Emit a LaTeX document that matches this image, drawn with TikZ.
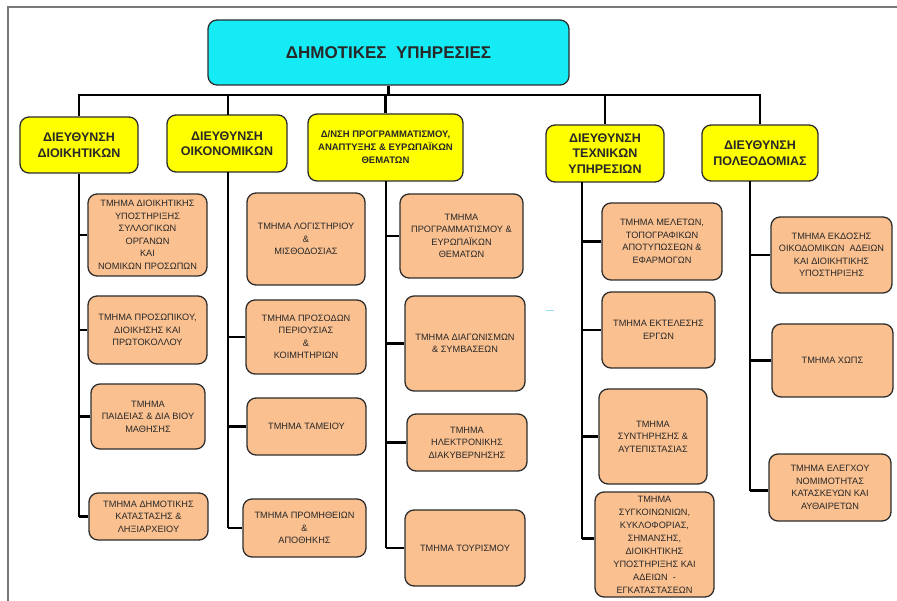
\documentclass[tikz,border=0pt]{standalone}
\usepackage{fontspec}
\setmainfont{Liberation Sans}
\definecolor{topfill}{RGB}{20,235,245}
\definecolor{headfill}{RGB}{255,255,0}
\definecolor{deptfill}{RGB}{250,192,144}
\definecolor{edgecol}{RGB}{45,45,45}
\definecolor{txtcol}{RGB}{40,40,40}
\definecolor{framecol}{RGB}{120,120,120}
\begin{document}
\begin{tikzpicture}[x=1pt,y=-1pt,
  box/.style={draw=edgecol, line width=1.3pt, rounded corners=9pt, inner sep=0pt, align=center, text=txtcol},
  topbox/.style={box, fill=topfill, font=\bfseries\fontsize{17}{20}\selectfont},
  headbox/.style={box, fill=headfill, font=\bfseries\fontsize{12.5}{15.5}\selectfont},
  headsmall/.style={box, fill=headfill, font=\bfseries\fontsize{9.5}{13}\selectfont},
  deptbox/.style={box, fill=deptfill, font=\fontsize{9.2}{12.5}\selectfont},
  conn/.style={line width=2.6pt, black}]
\useasboundingbox (0,0) rectangle (897,601);
% frame
\draw[framecol, line width=1.2pt] (8,601) -- (8,7) -- (897,7);

% top
\node[topbox, minimum width=361pt, minimum height=65pt] (top) at (388.5,52.5) {ΔΗΜΟΤΙΚΕΣ \ ΥΠΗΡΕΣΙΕΣ};

% directorates
\node[headbox, minimum width=118pt, minimum height=56pt] (d1) at (79,145) {ΔΙΕΥΘΥΝΣΗ\\ΔΙΟΙΚΗΤΙΚΩΝ};
\node[headbox, minimum width=120pt, minimum height=57pt] (d2) at (227,143.5) {ΔΙΕΥΘΥΝΣΗ\\ΟΙΚΟΝΟΜΙΚΩΝ};
\node[headsmall, minimum width=155pt, minimum height=67pt] (d3) at (385.5,147.5) {Δ/ΝΣΗ ΠΡΟΓΡΑΜΜΑΤΙΣΜΟΥ,\\ΑΝΑΠΤΥΞΗΣ \& ΕΥΡΩΠΑΪΚΩΝ\\ΘΕΜΑΤΩΝ};
\node[headbox, minimum width=118pt, minimum height=57pt] (d4) at (605,153.5) {ΔΙΕΥΘΥΝΣΗ\\ΤΕΧΝΙΚΩΝ\\ΥΠΗΡΕΣΙΩΝ};
\node[headbox, minimum width=116pt, minimum height=56pt] (d5) at (760,153) {ΔΙΕΥΘΥΝΣΗ\\ΠΟΛΕΟΔΟΜΙΑΣ};

% departments column 1
\node[deptbox, minimum width=119pt, minimum height=82pt] (c1a) at (147.5,235) {ΤΜΗΜΑ ΔΙΟΙΚΗΤΙΚΗΣ\\ΥΠΟΣΤΗΡΙΞΗΣ\\ΣΥΛΛΟΓΙΚΩΝ\\ΟΡΓΑΝΩΝ\\ΚΑΙ\\ΝΟΜΙΚΩΝ ΠΡΟΣΩΠΩΝ};
\node[deptbox, minimum width=119pt, minimum height=68pt] (c1b) at (147.5,330) {ΤΜΗΜΑ ΠΡΟΣΩΠΙΚΟΥ,\\ΔΙΟΙΚΗΣΗΣ ΚΑΙ\\ΠΡΩΤΟΚΟΛΛΟΥ};
\node[deptbox, minimum width=114pt, minimum height=65pt] (c1c) at (148,416.5) {ΤΜΗΜΑ\\ΠΑΙΔΕΙΑΣ \& ΔΙΑ ΒΙΟΥ\\ΜΑΘΗΣΗΣ};
\node[deptbox, minimum width=119pt, minimum height=47pt] (c1d) at (148.5,516.5) {ΤΜΗΜΑ ΔΗΜΟΤΙΚΗΣ\\ΚΑΤΑΣΤΑΣΗΣ \&\\ΛΗΞΙΑΡΧΕΙΟΥ};

% column 2
\node[deptbox, minimum width=118pt, minimum height=92pt] (c2a) at (306,239) {ΤΜΗΜΑ ΛΟΓΙΣΤΗΡΙΟΥ\\\&\\ΜΙΣΘΟΔΟΣΙΑΣ};
\node[deptbox, minimum width=120pt, minimum height=74pt] (c2b) at (306,337) {ΤΜΗΜΑ ΠΡΟΣΟΔΩΝ\\ΠΕΡΙΟΥΣΙΑΣ\\\&\\ΚΟΙΜΗΤΗΡΙΩΝ};
\node[deptbox, minimum width=119pt, minimum height=57pt] (c2c) at (306.5,426.5) {ΤΜΗΜΑ ΤΑΜΕΙΟΥ};
\node[deptbox, minimum width=123pt, minimum height=58pt] (c2d) at (304.5,528) {ΤΜΗΜΑ ΠΡΟΜΗΘΕΙΩΝ\\\&\\ΑΠΟΘΗΚΗΣ};

% column 3
\node[deptbox, minimum width=123pt, minimum height=84pt] (c3a) at (461.5,236) {ΤΜΗΜΑ\\ΠΡΟΓΡΑΜΜΑΤΙΣΜΟΥ \&\\ΕΥΡΩΠΑΪΚΩΝ\\ΘΕΜΑΤΩΝ};
\node[deptbox, minimum width=120pt, minimum height=95pt] (c3b) at (465,343.5) {ΤΜΗΜΑ ΔΙΑΓΩΝΙΣΜΩΝ\\\& ΣΥΜΒΑΣΕΩΝ};
\node[deptbox, minimum width=120pt, minimum height=57pt] (c3c) at (467,442.5) {ΤΜΗΜΑ\\ΗΛΕΚΤΡΟΝΙΚΗΣ\\ΔΙΑΚΥΒΕΡΝΗΣΗΣ};
\node[deptbox, minimum width=120pt, minimum height=76pt] (c3d) at (465,548) {ΤΜΗΜΑ ΤΟΥΡΙΣΜΟΥ};

% column 4
\node[deptbox, minimum width=120pt, minimum height=77pt] (c4a) at (662,241.5) {ΤΜΗΜΑ ΜΕΛΕΤΩΝ,\\ΤΟΠΟΓΡΑΦΙΚΩΝ\\ΑΠΟΤΥΠΩΣΕΩΝ \&\\ΕΦΑΡΜΟΓΩΝ};
\node[deptbox, minimum width=113pt, minimum height=76pt] (c4b) at (658.5,330) {ΤΜΗΜΑ ΕΚΤΕΛΕΣΗΣ\\ΕΡΓΩΝ};
\node[deptbox, minimum width=108pt, minimum height=95pt] (c4c) at (653,436.5) {ΤΜΗΜΑ\\ΣΥΝΤΗΡΗΣΗΣ \&\\ΑΥΤΕΠΙΣΤΑΣΙΑΣ};
\node[deptbox, minimum width=119pt, minimum height=105pt, font=\fontsize{9.2}{13}\selectfont] (c4d) at (654.5,544.5) {ΤΜΗΜΑ\\ΣΥΓΚΟΙΝΩΝΙΩΝ,\\ΚΥΚΛΟΦΟΡΙΑΣ,\\ΣΗΜΑΝΣΗΣ,\\ΔΙΟΙΚΗΤΙΚΗΣ\\ΥΠΟΣΤΗΡΙΞΗΣ ΚΑΙ\\ΑΔΕΙΩΝ \ -\\ΕΓΚΑΤΑΣΤΑΣΕΩΝ};

% column 5
\node[deptbox, minimum width=121pt, minimum height=76pt] (c5a) at (831.5,255) {ΤΜΗΜΑ ΕΚΔΟΣΗΣ\\ΟΙΚΟΔΟΜΙΚΩΝ \ ΑΔΕΙΩΝ\\ΚΑΙ ΔΙΟΙΚΗΤΙΚΗΣ\\ΥΠΟΣΤΗΡΙΞΗΣ};
\node[deptbox, minimum width=121pt, minimum height=73pt] (c5b) at (832.5,360.5) {ΤΜΗΜΑ ΧΩΠΣ};
\node[deptbox, minimum width=122pt, minimum height=67pt] (c5c) at (830,487.5) {ΤΜΗΜΑ ΕΛΕΓΧΟΥ\\ΝΟΜΙΜΟΤΗΤΑΣ\\ΚΑΤΑΣΚΕΥΩΝ ΚΑΙ\\ΑΥΘΑΙΡΕΤΩΝ};

% bus
\coordinate (busL) at (79,95);
\coordinate (busR) at (760,95);
\draw[conn] (top.south) -- (top.south |- busL);
\draw[conn, line cap=rect] (busL) -- (busR);
\draw[conn] (d1.north |- busL) -- (d1.north);
\draw[conn] (228,95) -- (228,115);
\draw[conn] (d3.north |- busL) -- (d3.north);
\draw[conn] (d4.north |- busL) -- (d4.north);
\draw[conn] (d5.north |- busL) -- (d5.north);

% spines
\coordinate (s1) at (d1.south);
\coordinate (s2) at (228,172);
\coordinate (s3) at (386,181);
\coordinate (s4) at (582,182);
\coordinate (s5) at (750,181);
\coordinate (e4) at ([yshift=6pt]c4d.west);
\coordinate (e5) at ([yshift=-3pt]c5c.west);

\draw[conn] (s1) -- (s1 |- c1d.west);
\foreach \b in {c1a,c1b,c1c,c1d} \draw[conn] (s1 |- \b.west) -- (\b.west);

\draw[conn] (s2) -- (s2 |- c2d.west);
\foreach \b in {c2b,c2c,c2d} \draw[conn] (s2 |- \b.west) -- (\b.west);

\draw[conn] (s3) -- (s3 |- c3d.west);
\foreach \b in {c3a,c3b,c3c,c3d} \draw[conn] (s3 |- \b.west) -- (\b.west);

\draw[conn] (s4) -- (s4 |- e4);
\foreach \b in {c4a,c4b,c4c} \draw[conn] (s4 |- \b.west) -- (\b.west);
\draw[conn] (s4 |- e4) -- (e4);

\draw[conn] (s5) -- (s5 |- e5);
\foreach \b in {c5a,c5b} \draw[conn] (s5 |- \b.west) -- (\b.west);
\draw[conn] (s5 |- e5) -- (e5);

% stray mark
\draw[cyan!40, line width=1pt] (546,311) -- (554,311);
\end{tikzpicture}
\end{document}
